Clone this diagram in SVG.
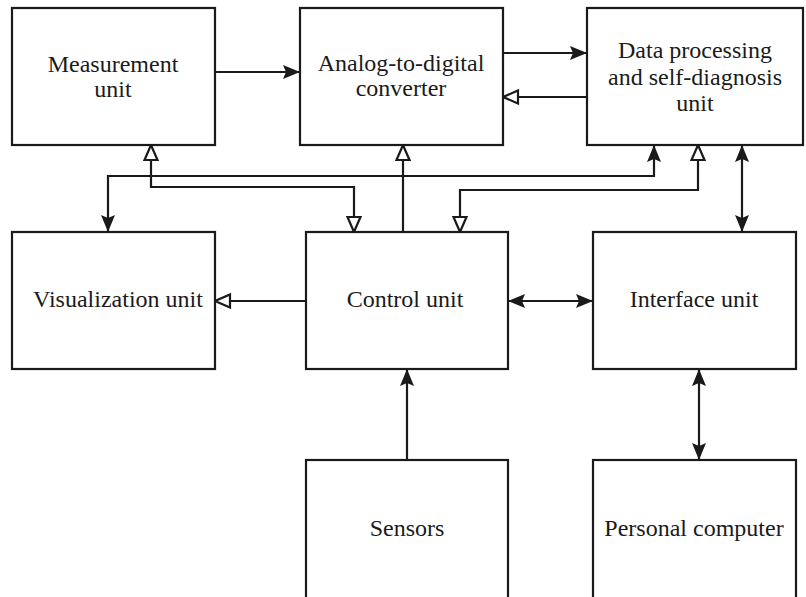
<svg xmlns="http://www.w3.org/2000/svg" width="806" height="597" viewBox="0 0 806 597">
<defs>
<style>
.box{fill:#fff;stroke:#1a1a1a;stroke-width:2.2}
.t{font-family:"Liberation Serif","Times New Roman",serif;font-size:24px;fill:#1a1a1a;text-anchor:middle}
.c{fill:none;stroke:#1a1a1a;stroke-width:2.2}
.f{marker-end:url(#af)}
.fd{marker-start:url(#af);marker-end:url(#af)}
.h{marker-end:url(#ah)}
.hd{marker-start:url(#ah);marker-end:url(#ah)}
</style>
<marker id="af" markerUnits="userSpaceOnUse" markerWidth="18" markerHeight="16" refX="17" refY="8" orient="auto-start-reverse">
<path d="M0,1 L17,8 L0,15 L3,8 z" fill="#1a1a1a"/>
</marker>
<marker id="ah" markerUnits="userSpaceOnUse" markerWidth="20" markerHeight="18" refX="17" refY="9" orient="auto-start-reverse">
<path d="M2,2.5 L17,9 L2,15.5 z" fill="#fff" stroke="#1a1a1a" stroke-width="2.2"/>
</marker>
</defs>
<rect width="806" height="597" fill="#fff"/>
<g id="connectors">
<path class="c f" d="M215,72 H300"/>
<path class="c f" d="M503,53 H587"/>
<path class="c h" d="M587,97 H503"/>
<path class="c h" d="M306,301 H215"/>
<path class="c fd" d="M508,301 H593"/>
<path class="c fd" d="M699,369 V460"/>
<path class="c f" d="M407,460 V369"/>
<path class="c fd" d="M742,145 V232"/>
<path class="c h" d="M403,232 V145"/>
<path class="c hd" d="M151,145 V187 H354 V232"/>
<path class="c fd" d="M108,232 V176 H654 V145"/>
<path class="c hd" d="M698,145 V190 H460 V232"/>
</g>
<g id="measurement">
<rect class="box" x="12" y="8" width="203" height="137"/>
<text class="t" x="113" y="72">Measurement</text>
<text class="t" x="113" y="97">unit</text>
</g>
<g id="adc">
<rect class="box" x="300" y="8" width="203" height="137"/>
<text class="t" x="401" y="71">Analog-to-digital</text>
<text class="t" x="401" y="96">converter</text>
</g>
<g id="dataproc">
<rect class="box" x="587" y="8" width="216" height="137"/>
<text class="t" x="695" y="58">Data processing</text>
<text class="t" x="695" y="85">and self-diagnosis</text>
<text class="t" x="695" y="111">unit</text>
</g>
<g id="visualization">
<rect class="box" x="12" y="232" width="203" height="137"/>
<text class="t" x="118" y="307">Visualization unit</text>
</g>
<g id="control">
<rect class="box" x="306" y="232" width="202" height="137"/>
<text class="t" x="405" y="307">Control unit</text>
</g>
<g id="interface">
<rect class="box" x="593" y="232" width="203" height="137"/>
<text class="t" x="694" y="307">Interface unit</text>
</g>
<g id="sensors">
<rect class="box" x="306" y="460" width="202" height="160"/>
<text class="t" x="407" y="536">Sensors</text>
</g>
<g id="pc">
<rect class="box" x="593" y="460" width="203" height="160"/>
<text class="t" x="694" y="536">Personal computer</text>
</g>
</svg>
